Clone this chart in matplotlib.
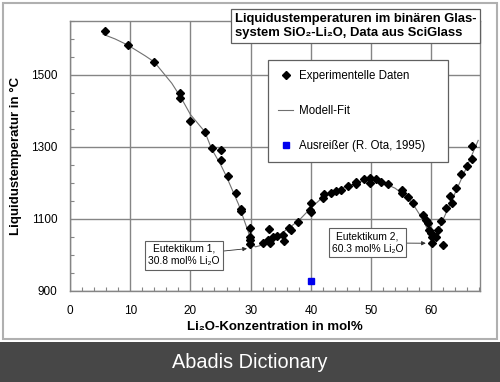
import matplotlib
matplotlib.use("Agg")
import matplotlib.pyplot as plt
from matplotlib.patches import Rectangle
from matplotlib.lines import Line2D
from matplotlib.ticker import MultipleLocator

plt.rcParams['font.family'] = ['Liberation Sans', 'DejaVu Sans']

# Experimental data (Li2O mol%, liquidus temperature in °C)
exp_x = [5.8, 9.6, 14.0, 18.3, 18.3, 20.0, 22.4, 23.6, 25.1, 25.1, 26.3, 27.6,
         28.4, 28.4, 29.9, 29.9, 29.9, 29.9, 32.1, 33.1, 32.9, 33.2, 33.7, 34.4,
         35.3, 35.5, 36.3, 36.7, 37.9, 40.0, 39.9, 40.0, 42.0, 42.2, 43.3, 44.2,
         45.0, 46.2, 47.5, 47.5, 48.8, 49.8, 49.8, 50.8, 51.6, 52.9, 55.1, 55.1,
         56.1, 56.9, 58.7, 59.2, 59.5, 59.7, 59.9, 60.2, 60.2, 60.8, 61.2, 61.7,
         61.9, 62.5, 63.1, 63.5, 64.1, 64.9, 65.9, 66.7, 66.7]
exp_T = [1622, 1583, 1536, 1449, 1435, 1371, 1341, 1296, 1290, 1264, 1219, 1171,
         1128, 1122, 1075, 1050, 1041, 1030, 1033, 1071, 1041, 1032, 1050, 1052,
         1055, 1039, 1074, 1069, 1092, 1143, 1124, 1120, 1157, 1169, 1171, 1177,
         1180, 1191, 1203, 1196, 1210, 1213, 1199, 1210, 1201, 1197, 1180, 1173,
         1160, 1143, 1111, 1097, 1089, 1069, 1061, 1049, 1034, 1049, 1069, 1095,
         1027, 1129, 1162, 1143, 1185, 1225, 1247, 1265, 1302]

# Outlier
out_x = [40.0]
out_T = [927]

# Model fit curve
fit_x = [5.5, 7.5, 9.6, 12.5, 14.0, 16.9, 18.5, 20.0, 22.4, 23.5, 25.1, 26.0,
         28.0, 29.9, 30.3, 30.8, 31.5, 32.5, 35.0, 38.0, 40.0, 42.0, 45.0, 48.0,
         50.0, 52.0, 54.0, 56.0, 57.0, 58.1, 59.0, 59.5, 60.0, 60.3, 61.0, 62.0,
         64.0, 66.0, 67.8]
fit_T = [1613, 1600, 1583, 1553, 1536, 1477, 1435, 1390, 1342, 1295, 1248, 1217,
         1140, 1050, 1030, 1022, 1025, 1036, 1058, 1095, 1130, 1160, 1185, 1202,
         1208, 1200, 1185, 1160, 1140, 1111, 1085, 1064, 1045, 1036, 1060, 1099,
         1173, 1248, 1318]

xticks = [0, 10, 20, 30, 40, 50, 60]
yticks = [900, 1100, 1300, 1500]

W, H = 500, 382
fig = plt.figure(figsize=(W / 100, H / 100), dpi=100)
ax = fig.add_axes([70 / W, 1 - 290.7 / H, 410 / W, (290.7 - 21) / H])

grid_c = '#858585'
ax.plot(fit_x, fit_T, color='#707070', lw=0.8, zorder=3)
ax.plot(exp_x, exp_T, ls='none', marker='D', ms=4.3, color='black', zorder=4)
ax.plot(out_x, out_T, ls='none', marker='s', ms=4.0, color='#0000ee', zorder=4)

ax.set_xlim(0, 68.1)
ax.set_ylim(900, 1650)
ax.set_xticks(xticks)
ax.set_yticks(yticks)
ax.xaxis.set_minor_locator(MultipleLocator(2))
ax.yaxis.set_minor_locator(MultipleLocator(50))
ax.grid(True, which='major', color=grid_c, lw=1.0)
ax.tick_params(which='both', direction='in', color=grid_c)
ax.tick_params(which='major', length=0, labelsize=8.5)
ax.tick_params(which='minor', length=3, width=0.8)
ax.tick_params(axis='x', which='major', pad=10)
ax.tick_params(axis='y', which='major', pad=9)
for s in ax.spines.values():
    s.set_color(grid_c)
    s.set_linewidth(1.0)

ax.set_xlabel('Li₂O-Konzentration in mol%', fontsize=9.5, fontweight='bold')
ax.set_ylabel('Liquidustemperatur in °C', fontsize=9.5, fontweight='bold')
ax.xaxis.set_label_coords(0.5, -0.112)
ax.yaxis.set_label_coords(-0.118, 0.5)

# Legend
handles = [
    Line2D([], [], ls='none', marker='D', ms=4.0, color='black'),
    Line2D([], [], color='#707070', lw=0.8),
    Line2D([], [], ls='none', marker='s', ms=3.8, color='#0000ee'),
]
labels = ['Experimentelle Daten', 'Modell-Fit', 'Ausreißer (R. Ota, 1995)']
leg = ax.legend(handles, labels, loc='upper left', mode='expand',
                bbox_to_anchor=(268 / W, 1 - 162 / H, 180 / W, 102.5 / H),
                bbox_transform=fig.transFigure,
                fontsize=8.3, frameon=True, fancybox=False, framealpha=1,
                edgecolor='#606060', labelspacing=2.0, handlelength=1.3,
                handletextpad=0.45, borderpad=0.9, borderaxespad=0)
leg.get_frame().set_linewidth(0.9)
leg.set_zorder(6)

# Annotations
box = dict(boxstyle='square,pad=0.3', fc='white', ec='#606060', lw=0.8)
ax.annotate('Eutektikum 1,\n30.8 mol% Li₂O', xy=(29.4, 1017), xytext=(18.9, 999),
            fontsize=7.4, ha='center', va='center', bbox=box, zorder=7,
            linespacing=1.35,
            arrowprops=dict(arrowstyle='-|>', lw=0.6, color='#303030',
                            mutation_scale=6, shrinkA=0, shrinkB=0))
ax.annotate('Eutektikum 2,\n60.3 mol% Li₂O', xy=(59.1, 1032), xytext=(49.4, 1033),
            fontsize=7.4, ha='center', va='center', bbox=box, zorder=7,
            linespacing=1.35,
            arrowprops=dict(arrowstyle='-|>', lw=0.6, color='#303030',
                            mutation_scale=6, shrinkA=0, shrinkB=0))

# Title box
fig.text(235 / W, 1 - 26.2 / H,
         'Liquidustemperaturen im binären Glas-\nsystem SiO₂-Li₂O, Data aus SciGlass',
         fontsize=9.4, fontweight='bold', ha='left', va='center', linespacing=1.25,
         bbox=dict(boxstyle='square,pad=0.3', fc='white', ec='#606060', lw=0.9),
         zorder=10)

# Outer frame and banner
fig.patches.append(Rectangle((3 / W, 1 - 339 / H), 494 / W, 336 / H,
                             transform=fig.transFigure, fill=False,
                             ec='#b0b0b0', lw=1.5, zorder=0))
fig.patches.append(Rectangle((0, 0), 1, 40 / H, transform=fig.transFigure,
                             fc='#474747', ec='none', zorder=0))
fig.text(0.5, 20 / H, 'Abadis Dictionary', color='white', fontsize=14.3,
         ha='center', va='center')

fig.savefig('out.png', dpi=100)
